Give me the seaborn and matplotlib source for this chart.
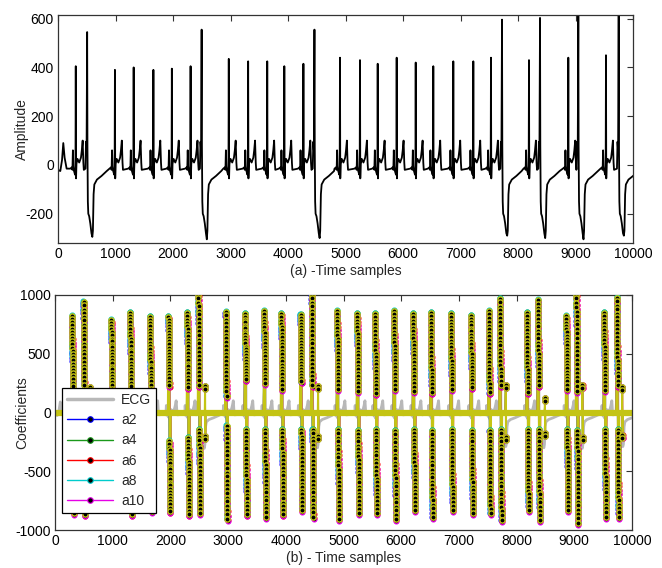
import numpy as np
import pandas as pd
import matplotlib
matplotlib.use("Agg")
import matplotlib.pyplot as plt
import seaborn as sns
from matplotlib.lines import Line2D

sns.set_theme(style="white")
plt.rcParams['font.family'] = ['Liberation Sans', 'DejaVu Sans']
plt.rcParams['axes.unicode_minus'] = False

# ---------------- data ----------------
# normal beats: R-peak sample and amplitude
normal_x = [309, 990, 1316, 1659, 1980, 2306, 2970, 3307, 3639, 3936, 4268,
            4904, 5252, 5560, 5890, 6221, 6527, 6875, 7223, 7530, 8191, 8875, 9530]
normal_r = [405, 390, 400, 390, 395, 405, 435, 425, 425, 405, 415,
            440, 430, 415, 440, 420, 405, 425, 425, 440, 430, 440, 450]
# large (ectopic) beats: peak sample, peak amplitude, trough amplitude
ectopic_x = [507, 2498, 4460, 7722, 8383, 9049, 9751]
ectopic_r = [545, 555, 555, 596, 603, 625, 612]
ectopic_trough = [-295, -305, -300, -290, -300, -305, -290]
# start of the record (tail of a beat before sample 0)
lead_in_x = [0, 40, 70, 92, 115, 150]
lead_in_y = [-20, -25, 20, 90, 30, -15]
# beat shapes (offset in samples, value; None = peak, 'T' = trough)
normal_off = [-95, -70, -58, -50, -42, -30, -12, -5, 0, 5, 12, 30, 60, 90, 105, 120, 132, 140]
normal_val = [-15, -10, -20, 60, -5, -25, -40, -10, None, -55, 5, 25, 10, 30, 60, 100, 10, -20]
ect_off = [-30, -20, -10, 0, 5, 12, 20, 35, 55, 75, 90, 100, 112, 125, 170, 250, 340]
ect_val = [-15, 95, 60, None, 80, -150, -200, -210, -240, -280, 'T', -270, -120, -80, -60, -45, -25]

# coefficient columns (one per beat, sorted by sample)
col_top = [816, 935, 782, 844, 810, 810, 844, 1000, 850, 835, 858, 835, 827, 1000, 858,
           838, 835, 858, 835, 845, 835, 820, 858, 963, 845, 952, 815, 1000, 845, 972]
col_bottom = [-858, -872, -820, -872, -840, -844, -872, -858, -910, -872, -892, -872, -830, -892, -910,
              -858, -858, -910, -830, -892, -830, -858, -858, -915, -830, -915, -830, -943, -892, -892]
pos_low = [220, 230, 200, 220, 200, 230, 210, 230, 140, 280, 250, 200, 260, 230, 200,
           180, 160, 200, 180, 170, 200, 210, 170, 230, 170, 230, 200, 180, 190, 230]
neg_high = [-170, -200, -180, -190, -180, -250, -220, -150, -120, -150, -150, -150, -150, -150, -150,
            -160, -150, -160, -150, -160, -150, -160, -160, -150, -150, -150, -150, -160, -150, -150]
level_frac = [0.00, 0.04, 0.09, 0.13, 0.18, 0.22, 0.27, 0.31, 0.36, 0.40, 0.45, 0.50,
              0.54, 0.59, 0.63, 0.68, 0.72, 0.77, 0.81, 0.86, 0.90, 0.95, 1.00]
blob_x = [607, 2600, 4559, 7810, 8490, 9140, 9830]
blob_pos = [220, 225, 225, 230, 120, 230, 220]
blob_neg = [-220, -225, -225, -230, -200, -230, -220]

series_names = ['a2', 'a4', 'a6', 'a8', 'a10', 'a12']

# ---------------- build the ECG polyline ----------------
vx, vy = list(lead_in_x), list(lead_in_y)
for b, r in zip(normal_x, normal_r):
    for o, v in zip(normal_off, normal_val):
        vx.append(b + o)
        vy.append(r if v is None else v)
for b, r, t in zip(ectopic_x, ectopic_r, ectopic_trough):
    for o, v in zip(ect_off, ect_val):
        vx.append(b + o)
        vy.append(r if v is None else (t if v == 'T' else v))
order = np.argsort(vx, kind='stable')
ecg = pd.DataFrame({'x': np.array(vx)[order], 'y': np.array(vy, dtype=float)[order]})

beats = sorted(normal_x + ectopic_x)

# ---------------- build the coefficient series ----------------
series_style = {
    'a2': dict(color=(0.0, 0.0, 1.0), off=0, sh=0),
    'a4': dict(color=(0.1, 0.6, 0.1), off=3, sh=9),
    'a6': dict(color=(1.0, 0.0, 0.0), off=6, sh=-9),
    'a8': dict(color=(0.0, 0.8, 0.8), off=1, sh=13),
    'a10': dict(color=(0.9, 0.0, 0.9), off=5, sh=-13),
    'a12': dict(color=(0.77, 0.77, 0.08), off=3, sh=4),
}


def build_series(off, sh):
    xs, ys = [0], [0.0]
    items = [('col', b, j) for j, b in enumerate(beats)]
    items += [('blob', bx, k) for k, bx in enumerate(blob_x)]
    items.sort(key=lambda t: t[1])
    for kind, b, j in items:
        if kind == 'col':
            xs.append(b - 25); ys.append(0.0)
            for i, f in enumerate(level_frac):
                xs.append(b - 16 + off + 0.7 * i)
                ys.append(col_top[j] - f * (col_top[j] - pos_low[j]) + sh)
            for i, f in enumerate(level_frac):
                xs.append(b + off + 0.7 * i)
                ys.append(neg_high[j] + f * (col_bottom[j] - neg_high[j]) + sh)
            xs.append(b + 25 + off); ys.append(0.0)
        else:
            xs += [b - 5, b + off // 2, b + off // 2 + 1, b + 3 + off // 2, b + 4 + off // 2, b + 8]
            ys += [0.0, blob_pos[j], blob_pos[j] - 25, blob_neg[j] + 25, blob_neg[j], 0.0]
    xs.append(10000); ys.append(0.0)
    return pd.DataFrame({'x': xs, 'y': ys})


# ---------------- figure ----------------
fig = plt.figure(figsize=(6.62, 5.68), dpi=100)
ax1 = fig.add_axes([58 / 662, 1 - 243 / 568, 575 / 662, 228 / 568])
ax2 = fig.add_axes([55 / 662, 1 - 530 / 568, 577 / 662, 235 / 568])

# top panel
sns.lineplot(data=ecg, x='x', y='y', ax=ax1, color='black', lw=1.3,
             estimator=None, sort=False)
ax1.set_xlim(0, 10000)
ax1.set_ylim(-320, 615)
ax1.set_yticks([-200, 0, 200, 400, 600])
ax1.set_xticks(range(0, 10001, 1000))
ax1.set_xlabel('(a) -Time samples', fontsize=10, labelpad=2)
ax1.set_ylabel('Amplitude', fontsize=10)
ax1.yaxis.set_label_coords(-(58 - 29) / 575, 0.5)

# bottom panel
sns.lineplot(data=ecg, x='x', y='y', ax=ax2, color=(0.72, 0.72, 0.72), lw=2,
             estimator=None, sort=False, zorder=1)
for name in series_names:
    st = series_style[name]
    df = build_series(st['off'], st['sh'])
    lw = 1.4 if name == 'a12' else 1.0
    sns.lineplot(data=df, x='x', y='y', ax=ax2, color=st['color'], lw=lw,
                 estimator=None, sort=False, zorder=2)
    if name == 'a12':
        sns.lineplot(x=[df['x'].min(), df['x'].max()], y=[0, 0], ax=ax2,
                     color=st['color'], lw=4.5, estimator=None, sort=False, zorder=2)
    pts = df[df['y'] != 0]
    sns.scatterplot(data=pts, x='x', y='y', ax=ax2, color='black',
                    edgecolor=st['color'], linewidth=1.0 if name == 'a12' else 0.9,
                    s=14 if name == 'a12' else 12, marker='o', zorder=3, legend=False)

ax2.set_xlim(0, 10000)
ax2.set_ylim(-1000, 1000)
ax2.set_yticks([-1000, -500, 0, 500, 1000])
ax2.set_xticks(range(0, 10001, 1000))
ax2.set_xlabel('(b) - Time samples', fontsize=10, labelpad=2)
ax2.set_ylabel('Coefficients', fontsize=10)
ax2.yaxis.set_label_coords(-(55 - 29) / 577, 0.5)

handles = [Line2D([], [], color=(0.72, 0.72, 0.72), lw=2.5, label='ECG')]
for name in series_names[:5]:
    c = series_style[name]['color']
    handles.append(Line2D([], [], color=c, lw=1.0, marker='o', ms=4,
                          mfc='black', mec=c, mew=0.8, label=name))
leg = ax2.legend(handles=handles, loc='lower left', bbox_to_anchor=(7 / 577, 17 / 235),
                 borderaxespad=0, fontsize=10, frameon=True, fancybox=False,
                 edgecolor='black', framealpha=1, handlelength=3.3, handletextpad=0.6,
                 labelspacing=0.45, borderpad=0.35, markerfirst=True)
leg.get_frame().set_linewidth(0.9)
leg.set_zorder(10)

for ax in (ax1, ax2):
    ax.tick_params(direction='in', top=True, right=True, length=4, width=0.8,
                   labelsize=10, pad=3, colors='#333333', labelcolor='black')
    for sp in ax.spines.values():
        sp.set_color('#333333')
        sp.set_linewidth(0.9)

fig.savefig('out.png', dpi=100)
